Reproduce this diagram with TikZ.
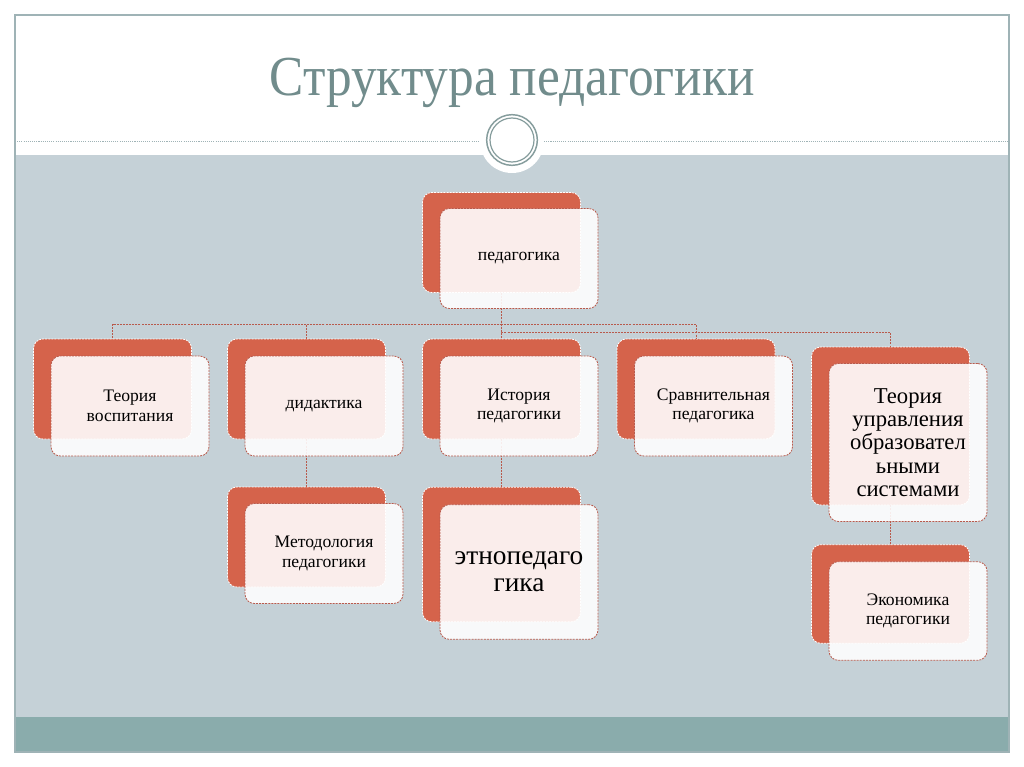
\documentclass[tikz,border=0pt]{standalone}
\usepackage{fontspec}
\setmainfont{Liberation Serif}
\definecolor{bggray}{HTML}{C5D1D7}
\definecolor{bandteal}{HTML}{8AACAC}
\definecolor{titlecol}{HTML}{718C8C}
\definecolor{framecol}{HTML}{9FB3B6}
\definecolor{boxred}{HTML}{D5634B}
\definecolor{linered}{HTML}{B85A4C}
\tikzset{
  back/.style={rectangle, rounded corners=7pt, fill=boxred, draw=white,
    dash pattern=on 1.5pt off 0.8pt, line width=0.6pt,
    minimum width=118.5pt, minimum height=#1, inner sep=0pt},
  back/.default=75pt,
  front/.style={rectangle, rounded corners=7pt, fill=white, fill opacity=0.89,
    text opacity=1, draw=linered, draw opacity=1, dash pattern=on 1.5pt off 0.8pt,
    line width=0.6pt, minimum width=118.5pt, minimum height=#1, inner sep=2pt,
    align=center, text width=114pt, font=\fontsize{13.2}{14.8}\selectfont},
  front/.default=75pt,
  conn/.style={draw=linered, dash pattern=on 1.5pt off 0.8pt, line width=0.7pt}
}
\begin{document}
\begin{tikzpicture}[x=0.75pt,y=-0.75pt]
\useasboundingbox (0,0) rectangle (1024,767);
\fill[white] (0,0) rectangle (1024,767);
% slide frame
\fill[bggray] (15,155) rectangle (1009,717);
\fill[bandteal] (15,717) rectangle (1009,752);
\draw[framecol, line width=0.8pt] (15,15) rectangle (1009,752);
\draw[framecol, line width=0.6pt, dash pattern=on 0.8pt off 0.8pt] (15,141) -- (1009,141);
\fill[white] (512,141) circle[radius=24pt];
\draw[titlecol!85, line width=1.1pt] (512,140) circle[radius=19pt];
\draw[titlecol!85, line width=0.9pt] (512,140) circle[radius=16.5pt];
% title
\node[text=titlecol, font=\fontsize{38.5}{40}\selectfont] (title) at (512,83) {\scalebox{1}[1.1]{Структура педагогики}};
% back boxes
\node[back] (root) at (501.5,242.5) {};
\node[back] (b1) at (112.5,389) {};
\node[back] (b2) at (306.5,389) {};
\node[back] (b3) at (501.5,389) {};
\node[back] (b4) at (696,389) {};
\node[back=118.5pt] (b5) at (890.5,426) {};
\node[back] (c2) at (306.5,537) {};
\node[back=101pt] (c3) at (501.5,554.5) {};
\node[back=74pt] (c5) at (890.5,594) {};
% connectors
\draw[conn] (root.south) -- ++(0,31.5) -| (b1.north);
\draw[conn] (root.south) -- ++(0,31.5) -| (b2.north);
\draw[conn] (root.south) -- (b3.north);
\draw[conn] (root.south) -- ++(0,31.5) -| (b4.north);
\draw[conn] (root.south) -- ++(0,40) -| (b5.north);
\draw[conn] (b2.south) -- (c2.north);
\draw[conn] (b3.south) -- (c3.north);
\draw[conn] (b5.south) -- (c5.north);
% front boxes with text
\node[front] (rootf) at (519,258.5) {педагогика};
\node[front] (b1f) at (130,406) {Теория\\воспитания};
\node[front] (b2f) at (324,406) {дидактика};
\node[front] (b3f) at (519,406) {История\\педагогики};
\node[front] (b4f) at (713.5,406) {Сравнительная\\педагогика};
\node[front=118.5pt, font=\fontsize{17}{17.5}\selectfont] (b5f) at (908,442.5) {Теория\\управления\\образовател\\ьными\\системами};
\node[front=101pt, font=\fontsize{20.5}{20.5}\selectfont] (c3f) at (519,572) {этнопедаго\\гика};
\node[front] (c2f) at (324,553.5) {Методология\\педагогики};
\node[front=74pt] (c5f) at (908,611) {Экономика\\педагогики};
\end{tikzpicture}
\end{document}
